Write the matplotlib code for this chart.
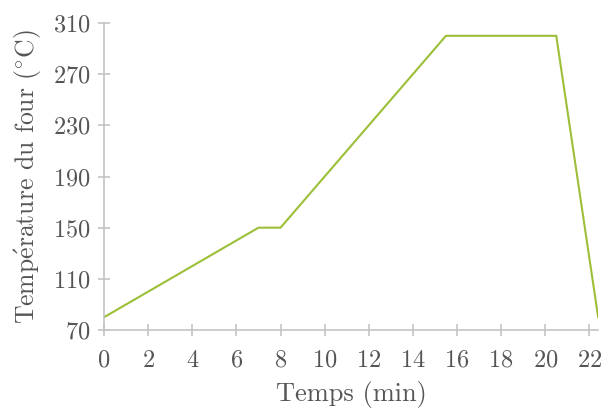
import matplotlib
matplotlib.use("Agg")
import matplotlib.pyplot as plt

temps = [0, 7, 8, 15.5, 20.5, 22.4]
temperature = [80, 150, 150, 300, 300, 80]
xticks = list(range(0, 23, 2))
yticks = list(range(70, 311, 40))

plt.rcParams['font.family'] = 'serif'
plt.rcParams['font.serif'] = ['cmr10']
plt.rcParams['mathtext.fontset'] = 'cm'
plt.rcParams['axes.formatter.use_mathtext'] = True

gray = '#c4c4c4'
txt = '#555555'

fig = plt.figure(figsize=(6.03, 4.11), dpi=100)
ax = fig.add_axes([0.1725, 0.197, 0.8195, 0.747])
ax.plot(temps, temperature, color='#9cbf38', lw=1.5)

ax.set_xlim(0, 22.4)
ax.set_ylim(70, 310)
ax.set_xticks(xticks)
ax.set_yticks(yticks)
for s in ['top', 'right']:
    ax.spines[s].set_visible(False)
for s in ['left', 'bottom']:
    ax.spines[s].set_color(gray)
    ax.spines[s].set_linewidth(1.2)
ax.tick_params(direction='inout', length=8, width=1.2, color=gray,
               labelcolor=txt, labelsize=17.5)
ax.tick_params(axis='x', pad=10)
ax.tick_params(axis='y', pad=6)

ax.set_xlabel('Temps (min)', fontsize=19, color=txt, labelpad=7)
ax.set_ylabel(r'Temp$\acute{\mathrm{e}}$rature du four $(^{\circ}$C)',
              fontsize=18.5, color=txt, labelpad=6)

fig.savefig('out.png', dpi=100)
